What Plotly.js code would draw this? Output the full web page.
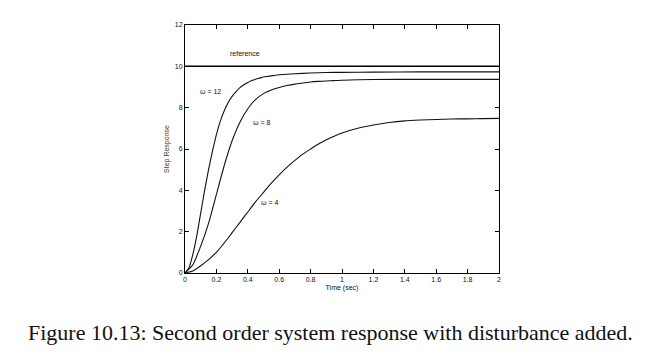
<!DOCTYPE html>
<html>
<head>
<meta charset="utf-8">
<script src="https://cdn.plot.ly/plotly-3.0.1.min.js"></script>
<style>
html,body{margin:0;padding:0;background:#fff;}
#chart{width:660px;height:351px;}
</style>
</head>
<body>
<div id="chart"></div>
<script>
// Data
const t12 = [0, 0.025, 0.05, 0.075, 0.1, 0.125, 0.15, 0.175, 0.2, 0.225, 0.25, 0.275, 0.3, 0.325, 0.35, 0.375, 0.4, 0.425, 0.45, 0.475, 0.5, 0.525, 0.55, 0.575, 0.6, 0.7, 0.8, 0.9, 1.0, 1.2, 1.5, 2.0];
const y12 = [0, 0.25, 0.9, 1.8, 2.9, 4.0, 5.0, 5.9, 6.7, 7.35, 7.85, 8.25, 8.55, 8.78, 8.97, 9.11, 9.22, 9.31, 9.38, 9.43, 9.48, 9.51, 9.54, 9.57, 9.59, 9.64, 9.68, 9.7, 9.71, 9.72, 9.73, 9.73];

const t8 = [0, 0.05, 0.1, 0.15, 0.2, 0.25, 0.3, 0.35, 0.4, 0.45, 0.5, 0.55, 0.6, 0.65, 0.7, 0.75, 0.8, 0.85, 0.9, 0.95, 1.0, 1.2, 1.5, 2.0];
const y8 = [0, 0.4, 1.3, 2.4, 3.8, 5.2, 6.4, 7.3, 7.95, 8.4, 8.68, 8.86, 8.98, 9.07, 9.14, 9.19, 9.24, 9.27, 9.29, 9.31, 9.33, 9.36, 9.37, 9.37];

const t4 = [0, 0.05, 0.1, 0.15, 0.2, 0.25, 0.3, 0.35, 0.4, 0.45, 0.5, 0.55, 0.6, 0.65, 0.7, 0.75, 0.8, 0.85, 0.9, 0.95, 1.0, 1.1, 1.2, 1.3, 1.4, 1.5, 1.6, 1.7, 1.8, 1.9, 2.0];
const y4 = [0, 0.1, 0.35, 0.65, 1.0, 1.45, 1.95, 2.45, 2.95, 3.45, 3.9, 4.35, 4.75, 5.12, 5.45, 5.75, 6.0, 6.24, 6.45, 6.62, 6.77, 7.0, 7.16, 7.28, 7.36, 7.4, 7.43, 7.45, 7.46, 7.47, 7.48];

const tRef = [0, 2];
const yRef = [10, 10];

const xTicks = [0, 0.2, 0.4, 0.6, 0.8, 1, 1.2, 1.4, 1.6, 1.8, 2];
const xTickText = ["0", "0.2", "0.4", "0.6", "0.8", "1", "1.2", "1.4", "1.6", "1.8", "2"];
const yTicks = [0, 2, 4, 6, 8, 10, 12];
const yTickText = ["0", "2", "4", "6", "8", "10", "12"];

const labels = [
  {text: "reference", x: 0.38, y: 10.62},
  {text: "ω = 12", x: 0.16, y: 8.76},
  {text: "ω = 8", x: 0.49, y: 7.26},
  {text: "ω = 4", x: 0.54, y: 3.43}
];

const lineStyle = {color: "#111", width: 1.1, shape: "spline", smoothing: 0.5};

const traces = [
  {x: tRef, y: yRef, mode: "lines", line: {color: "#000", width: 1.5}, hoverinfo: "skip"},
  {x: t12, y: y12, mode: "lines", line: lineStyle, hoverinfo: "skip"},
  {x: t8, y: y8, mode: "lines", line: lineStyle, hoverinfo: "skip"},
  {x: t4, y: y4, mode: "lines", line: lineStyle, hoverinfo: "skip"}
];

const axisFont = {family: "Liberation Sans, Arial, sans-serif", size: 7, color: "#111"};

const layout = {
  width: 660, height: 351,
  margin: {l: 185, r: 161, t: 25, b: 78},
  paper_bgcolor: "#fff", plot_bgcolor: "#fff",
  showlegend: false,
  xaxis: {
    range: [0, 2], tickvals: xTicks, ticktext: xTickText,
    ticks: "inside", ticklen: 4, tickcolor: "#000", tickwidth: 1,
    showline: true, linecolor: "#000", linewidth: 1, mirror: "ticks",
    showgrid: false, zeroline: false,
    tickfont: axisFont,
    title: {text: "Time (sec)", font: axisFont, standoff: 2}
  },
  yaxis: {
    range: [0, 12], tickvals: yTicks, ticktext: yTickText,
    ticks: "inside", ticklen: 4, tickcolor: "#000", tickwidth: 1,
    showline: true, linecolor: "#000", linewidth: 1, mirror: "ticks",
    showgrid: false, zeroline: false,
    tickfont: axisFont,
    title: {text: "Step Response", font: {family: "Liberation Sans, Arial, sans-serif", size: 7, color: "#4a3a30"}, standoff: 4}
  },
  annotations: labels.map(l => ({
    text: l.text, x: l.x, y: l.y, xref: "x", yref: "y",
    showarrow: false, font: axisFont, xanchor: "center", yanchor: "middle"
  })).concat([{
    text: "Figure 10.13: Second order system response with disturbance added.",
    xref: "paper", yref: "paper", x: 0.5, y: 0, xanchor: "center", yanchor: "middle",
    xshift: -12, yshift: -59,
    showarrow: false,
    font: {family: "Liberation Serif, Times New Roman, serif", size: 22, color: "#111"}
  }])
};

Plotly.newPlot("chart", traces, layout, {staticPlot: true, displayModeBar: false});
</script>
</body>
</html>
